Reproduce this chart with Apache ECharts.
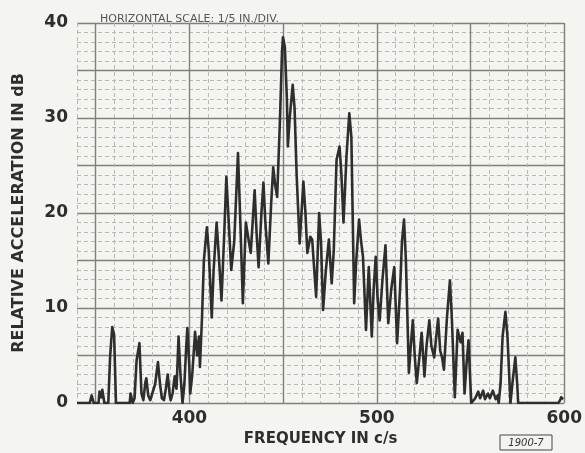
<!DOCTYPE html>
<html>
<head>
<meta charset="utf-8">
<script src="https://cdn.jsdelivr.net/npm/echarts@6/dist/echarts.min.js"></script>
<style>
html,body{margin:0;padding:0;background:#f4f4f1;}
#c{width:585px;height:453px;}
</style>
</head>
<body>
<div id="c"></div>
<script>
// Frequency (c/s)
var freq = [340.0,346.8,347.8,348.9,351.5,352.0,353.0,353.5,354.6,356.7,357.7,358.8,359.8,360.8,368.1,368.6,369.7,370.7,371.8,373.3,374.4,375.4,376.5,377.0,378.0,379.1,380.1,381.7,383.2,384.3,385.3,386.4,387.4,388.4,389.5,390.0,391.0,392.1,393.1,394.2,395.2,396.3,397.3,398.3,398.9,399.9,400.4,401.5,403.0,404.1,405.1,405.6,406.7,407.7,409.3,410.3,411.9,412.9,414.5,415.5,417.1,418.6,419.7,420.7,422.3,423.9,425.9,427.0,428.5,430.1,431.7,432.7,434.8,435.8,436.9,438.4,439.5,440.5,442.1,443.6,444.7,445.7,446.8,448.3,449.4,449.9,450.9,452.0,452.5,453.5,455.1,456.1,457.2,458.8,459.8,460.8,461.9,462.9,464.5,465.5,466.6,467.6,469.2,470.2,471.3,472.8,474.4,475.9,477.0,478.5,480.1,481.1,482.2,483.8,485.3,486.4,487.9,489.0,490.5,491.6,492.6,494.2,495.7,497.3,498.3,499.4,500.4,501.5,503.0,504.6,506.1,507.7,509.3,510.8,512.4,513.4,514.5,515.5,517.1,518.1,519.2,520.2,521.3,522.8,523.9,525.4,526.5,528.0,529.1,530.6,531.7,532.7,533.8,534.8,535.8,537.4,539.0,540.0,541.6,543.1,544.7,545.7,546.8,547.8,548.9,549.9,550.4,552.5,554.1,555.1,556.7,557.7,559.3,560.3,561.9,563.4,564.5,565.0,566.0,567.1,568.6,569.7,571.3,572.3,573.9,574.9,575.4,596.8,597.8,598.3,599.4];
// Relative acceleration (dB) at each frequency
var level = [0,0,0.8,0,0,1.2,0.6,1.4,0,0,5,8.0,7.2,0,0,1,0,0.5,4.5,6.3,1,0.3,2.2,2.6,0.8,0.3,0.5,2,4.3,2,0.5,0.3,1.5,3,0.8,0.3,1.0,2.8,1.5,7,3,0,2,6,7.9,4,1,3,7.5,5,7,3.8,9,15,18.5,16,9,14,19,16,10.8,18,23.8,20,14,17,26.3,20,10.5,19,17,15.8,22.4,18,14.3,20,23.2,19,14.7,21,24.8,23,21.7,29.8,37,38.5,37.5,32,27,30,33.5,31,24,16.8,20,23.3,20,15.8,17.5,17.2,14,11.2,20,17,9.8,14,17.2,12.6,16,25.6,27,24,19,26,30.5,28,10.5,15,19.3,17,15.4,7.7,14.3,7,12,15.4,11,8.7,13,16.6,8.4,12,14.3,6.3,12,17,19.3,15,3.2,6,8.7,5,2.1,5,7.4,2.8,6,8.7,6,4.8,7,8.9,5.5,4.8,3.5,9,12.9,9,0.6,7.7,6.4,7.4,1,4,6.6,2,0,0.5,1.2,0.5,1.3,0.4,1.0,0.5,1.3,0.4,0.8,0,2,7,9.6,7,0,2,4.8,2,0,0,0.3,0.6,0.4];
var xTickLabels = ['400','500','600'];
var yTickLabels = ['0','10','20','30','40'];
var xName = 'FREQUENCY IN c/s';
var yName = 'RELATIVE ACCELERATION IN dB';
var titleText = 'HORIZONTAL SCALE: 1/5 IN./DIV.';
var figureTag = '1900-7';

var pts = freq.map(function(f,i){return [f, level[i]];});
var ink = '#2e2e2e';
var minor = '#b9b9b4';
var major = '#80807b';
var T = 'rgba(0,0,0,0)';

var chart = echarts.init(document.getElementById('c'), null, {renderer:'canvas'});
chart.setOption({
  backgroundColor: '#f4f4f1',
  animation: false,
  grid: {left: 77, right: 9, top: 23, bottom: 50, containLabel: false},
  title: {
    text: titleText, left: 95, top: 9,
    textStyle: {fontFamily: 'DejaVu Sans', fontSize: 11, fontWeight: 'normal', color: '#555'}
  },
  graphic: [
    {type: 'rect', shape: {x: 500, y: 435, width: 52, height: 15},
     style: {fill: 'none', stroke: '#444', lineWidth: 1}},
    {type: 'text', x: 526, y: 443,
     style: {text: figureTag, fontFamily: 'DejaVu Sans', fontStyle: 'italic', fontSize: 10,
             fill: '#333', align: 'center', verticalAlign: 'middle'}}
  ],
  xAxis: [{
    type: 'value', min: 340, max: 600, interval: 10,
    name: xName, nameLocation: 'middle', nameGap: 20,
    nameTextStyle: {fontFamily: 'DejaVu Sans', fontWeight: 'bold', fontSize: 15, color: ink},
    axisLine: {show: false}, axisTick: {show: false},
    axisLabel: {
      margin: 7, fontFamily: 'DejaVu Sans', fontWeight: 'bold', fontSize: 17, color: ink,
      showMinLabel: true, showMaxLabel: true,
      formatter: function(v){ var s = String(Math.round(v)); return xTickLabels.indexOf(s) >= 0 ? s : ''; }
    },
    splitLine: {show: true, lineStyle: {color: minor, width: 1, type: [4, 3]}}
  }, {
    type: 'value', min: 340, max: 600, interval: 10, position: 'bottom',
    axisLine: {show: false}, axisTick: {show: false}, axisLabel: {show: false},
    splitLine: {show: true, lineStyle: {color: [T, major, T, T, T], width: 1.4}}
  }],
  yAxis: [{
    type: 'value', min: 0, max: 40, interval: 1,
    name: yName, nameLocation: 'middle', nameGap: 50, nameRotate: 90,
    nameTextStyle: {fontFamily: 'DejaVu Sans', fontWeight: 'bold', fontSize: 16, color: ink},
    axisLine: {show: false}, axisTick: {show: false},
    axisLabel: {
      margin: 9, fontFamily: 'DejaVu Sans', fontWeight: 'bold', fontSize: 17, color: ink,
      formatter: function(v){ var s = String(Math.round(v)); return yTickLabels.indexOf(s) >= 0 ? s : ''; }
    },
    splitLine: {show: true, lineStyle: {color: minor, width: 1, type: [4, 3]}}
  }, {
    type: 'value', min: 0, max: 40, interval: 1, position: 'left',
    axisLine: {show: false}, axisTick: {show: false}, axisLabel: {show: false},
    splitLine: {show: true, lineStyle: {color: [major, T, T, T, T], width: 1.4}}
  }],
  series: [{
    type: 'line', data: pts, xAxisIndex: 0, yAxisIndex: 0,
    symbol: 'none', smooth: false, sampling: null,
    lineStyle: {color: ink, width: 2.6, join: 'round'},
    z: 5
  }]
});
</script>
</body>
</html>
